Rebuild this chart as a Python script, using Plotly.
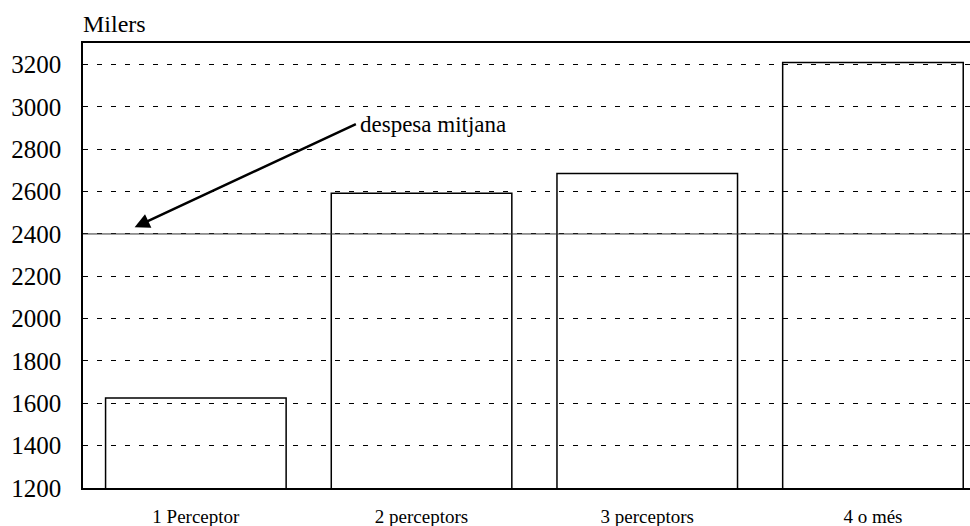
import plotly.graph_objects as go

categories = ["1 Perceptor", "2 perceptors", "3 perceptors", "4 o més"]
values = [1625, 2592, 2686, 3210]
average = 2400
y_ticks = [1200, 1400, 1600, 1800, 2000, 2200, 2400, 2600, 2800, 3000, 3200]
unit_label = "Milers"
arrow_label = "despesa mitjana"

FONT = "Liberation Serif, Times New Roman, serif"
xpos = list(range(len(categories)))

fig = go.Figure()
fig.add_trace(go.Bar(
    x=xpos, y=values, width=0.8,
    marker=dict(color="rgba(0,0,0,0)", line=dict(color="black", width=1.5)),
    hoverinfo="skip",
))

fig.add_shape(type="line", xref="paper", x0=0, x1=1, yref="y", y0=average, y1=average,
              line=dict(color="#333333", width=1))

fig.add_annotation(x=0.709, y=2919, ax=-0.278, ay=2428, xref="x", yref="y", axref="x", ayref="y",
                   text="", showarrow=True, arrowhead=0, arrowwidth=2.5, arrowcolor="black",
                   startarrowhead=2, arrowside="start", startarrowsize=1.2)
fig.add_annotation(x=0.72, y=2915, xref="x", yref="y", text=arrow_label, showarrow=False,
                   xanchor="left", yanchor="middle", font=dict(family=FONT, size=23, color="black"))
fig.add_annotation(xref="paper", yref="paper", x=-0.002, y=1 + (43 - 24) / 445,
                   text=unit_label, showarrow=False, xanchor="left", yanchor="middle",
                   font=dict(family=FONT, size=24, color="black"))

fig.update_layout(
    width=970, height=526,
    margin=dict(l=83, r=0, t=43, b=38, autoexpand=False),
    paper_bgcolor="white", plot_bgcolor="white",
    showlegend=False,
    font=dict(family=FONT, color="black"),
    xaxis=dict(
        range=[-0.5, 3.43], tickmode="array", tickvals=xpos, ticktext=categories,
        showgrid=False, showline=True, linecolor="black", linewidth=1.5, mirror=True,
        ticks="", tickfont=dict(family=FONT, size=19, color="black"), ticklabelstandoff=10,
        zeroline=False, automargin=False,
    ),
    yaxis=dict(
        range=[1200, 3302], tickmode="array", tickvals=y_ticks,
        showgrid=True, gridcolor="black", gridwidth=1, griddash="5px,9px",
        showline=True, linecolor="black", linewidth=1.5,
        ticks="", tickfont=dict(family=FONT, size=25, color="black"), ticklabelstandoff=15,
        zeroline=False, automargin=False,
    ),
)

fig.write_html("out.html", config={"displayModeBar": False},
               post_script="document.body.style.margin='0';document.body.style.overflow='hidden';")
